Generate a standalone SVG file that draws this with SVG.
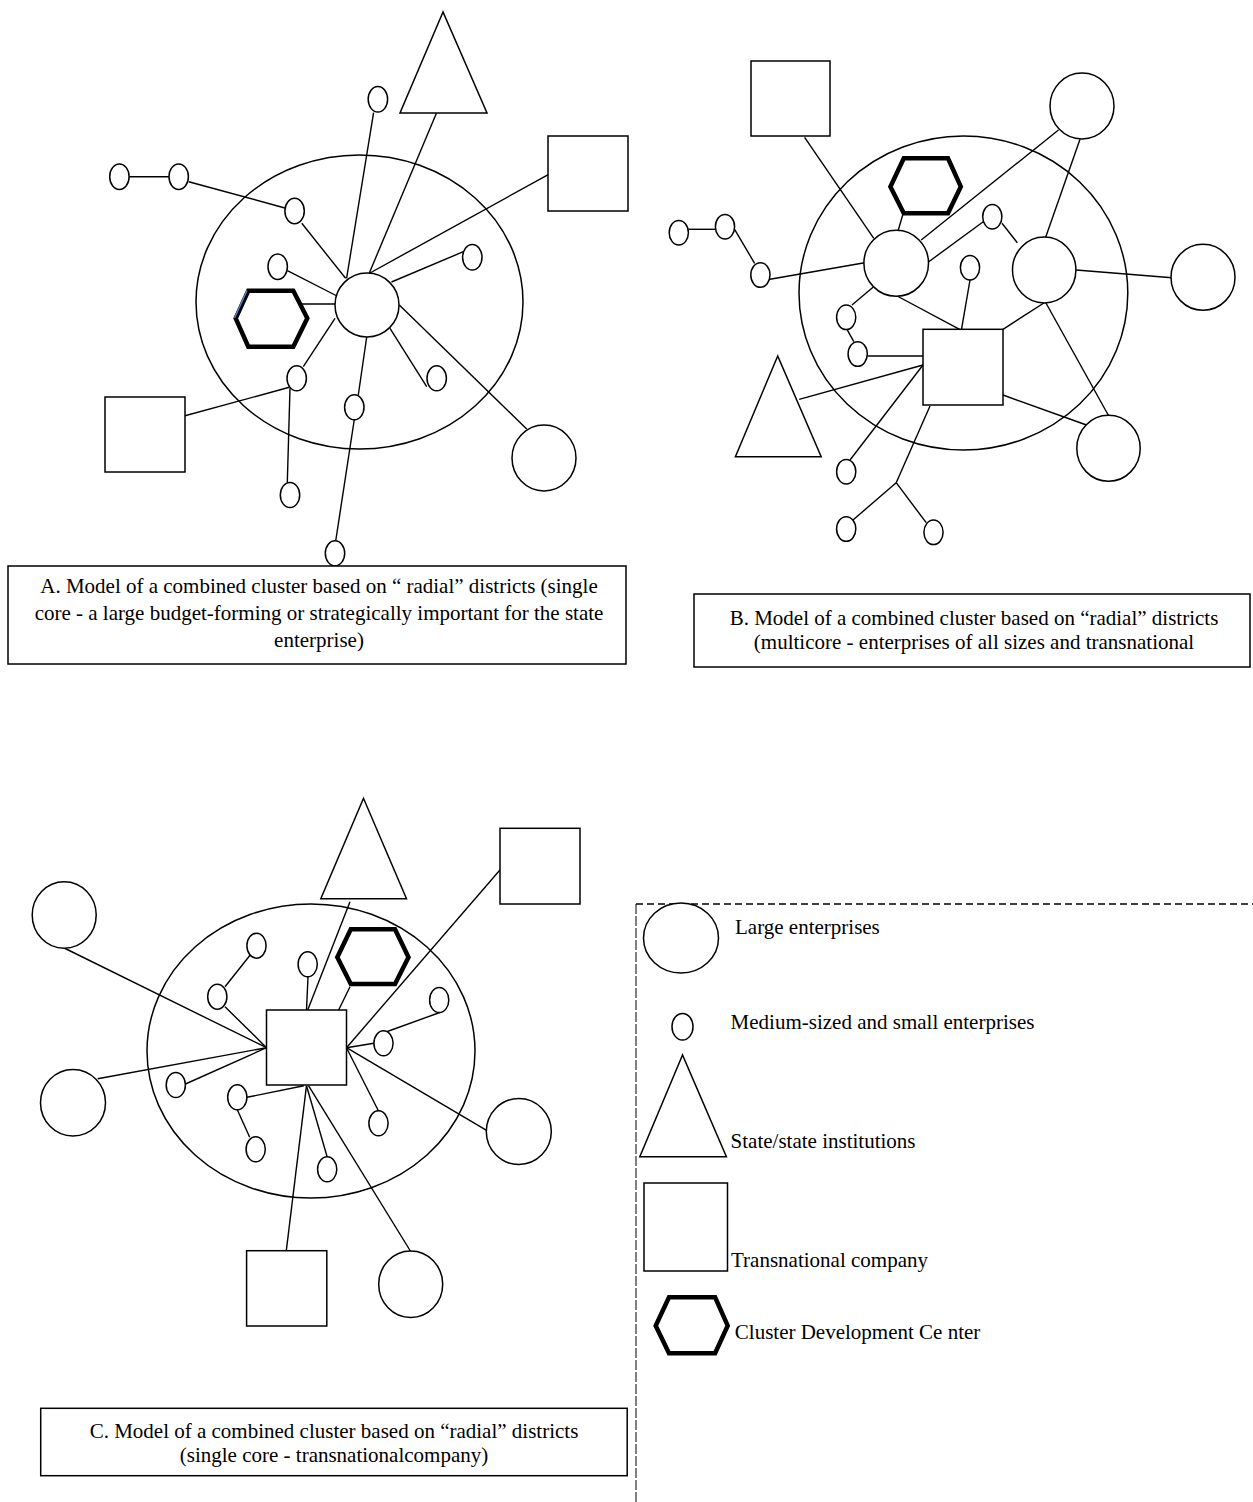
<svg xmlns="http://www.w3.org/2000/svg" width="1253" height="1502" viewBox="0 0 1253 1502">
<style>
.n{fill:#fff;stroke:#000;stroke-width:1.5}
.cl{fill:none;stroke:#000;stroke-width:1.5}
.h{fill:#fff;stroke:#000;stroke-width:4.5;stroke-linejoin:miter}
.c line{stroke:#000;stroke-width:1.4}
.t{font-family:"Liberation Serif","Times New Roman",serif;font-size:21px;fill:#000}
.m{text-anchor:middle}
.box{fill:#fff;stroke:#000;stroke-width:1.5}
</style>
<rect width="1253" height="1502" fill="#fff"/>

<!-- ================= Panel A ================= -->
<g id="clusterA"><ellipse class="cl" cx="359.5" cy="302" rx="163.5" ry="147"/></g>
<g id="connectorsA" class="c">
<line x1="129" y1="176.7" x2="169" y2="176.7"/>
<line x1="188.7" y1="181.7" x2="284.9" y2="208"/>
<line x1="301.8" y1="223.3" x2="345.6" y2="278.3"/>
<line x1="373.6" y1="112.7" x2="346.6" y2="278.3"/>
<line x1="436.4" y1="113.3" x2="369.3" y2="273"/>
<line x1="548.7" y1="174.3" x2="370" y2="273"/>
<line x1="463.3" y1="251.7" x2="391.5" y2="282"/>
<line x1="287.4" y1="270.7" x2="337" y2="296"/>
<line x1="301.7" y1="304" x2="335" y2="304"/>
<line x1="335" y1="318.3" x2="303.3" y2="366.7"/>
<line x1="185" y1="415.7" x2="289.3" y2="387.3"/>
<line x1="290" y1="388.3" x2="287.3" y2="482.5"/>
<line x1="366.7" y1="337" x2="358.3" y2="395"/>
<line x1="354.3" y1="419.5" x2="335.7" y2="541"/>
<line x1="390" y1="328.3" x2="426.7" y2="386.7"/>
<line x1="399.3" y1="305" x2="526.7" y2="429"/>
</g>
<g id="A-core"><circle class="n" cx="367" cy="305" r="32"/></g>
<g id="A-state"><polygon class="n" points="443,12 400,113 487,113"/></g>
<g id="A-tnc1"><rect class="n" x="548" y="136" width="80" height="75"/></g>
<g id="A-tnc2"><rect class="n" x="105" y="397" width="80" height="75"/></g>
<g id="A-large"><ellipse class="n" cx="544" cy="458" rx="32" ry="33"/></g>
<g id="A-cdc"><polygon class="h" points="248.3,290.7 293.3,290.7 307.3,318.3 293.3,346.7 248.3,346.7 235.7,318.3"/>
<line x1="247" y1="290.5" x2="234.5" y2="318" stroke="#4f81bd" stroke-width="1.5"/></g>
<g id="A-sme">
<ellipse class="n" cx="119.4" cy="176.7" rx="9.7" ry="12.8"/>
<ellipse class="n" cx="178.7" cy="176.7" rx="9.7" ry="12.8"/>
<ellipse class="n" cx="294.6" cy="211" rx="9.7" ry="12.8"/>
<ellipse class="n" cx="377.9" cy="99.3" rx="9.7" ry="12.8"/>
<ellipse class="n" cx="277.7" cy="266.7" rx="9.7" ry="12.8"/>
<ellipse class="n" cx="472.3" cy="257.3" rx="9.7" ry="12.8"/>
<ellipse class="n" cx="296.7" cy="378.3" rx="9.7" ry="12.5"/>
<ellipse class="n" cx="290" cy="495" rx="9.7" ry="12.5"/>
<ellipse class="n" cx="354.3" cy="407.3" rx="9.7" ry="12.5"/>
<ellipse class="n" cx="335" cy="553.3" rx="9.7" ry="12.5"/>
<ellipse class="n" cx="436.7" cy="378.3" rx="9.7" ry="12.5"/>
</g>
<g id="captionA">
<rect class="box" x="8" y="566" width="618" height="98"/>
<text class="t m" x="319" y="593">A. Model of a combined cluster based on “ radial” districts (single</text>
<text class="t m" x="319" y="620">core - a large budget-forming or strategically important for the state</text>
<text class="t m" x="319" y="647">enterprise)</text>
</g>

<!-- ================= Panel B ================= -->
<g id="clusterB"><ellipse class="cl" cx="963.4" cy="293" rx="164.4" ry="157"/></g>
<g id="connectorsB" class="c">
<line x1="688.5" y1="229.3" x2="715.4" y2="229.3"/>
<line x1="734.6" y1="229.3" x2="754.6" y2="263.3"/>
<line x1="770" y1="279.3" x2="864.6" y2="262.7"/>
<line x1="804.6" y1="137.3" x2="873.8" y2="238.3"/>
<line x1="903" y1="214" x2="898" y2="231"/>
<line x1="921.2" y1="240" x2="1058.5" y2="130"/>
<line x1="928.8" y1="261.7" x2="984.6" y2="220.7"/>
<line x1="1002" y1="223.3" x2="1017.3" y2="242.7"/>
<line x1="1080" y1="139.3" x2="1045.4" y2="238"/>
<line x1="1076.2" y1="270" x2="1172" y2="277.7"/>
<line x1="896.2" y1="295.5" x2="959.6" y2="329.3"/>
<line x1="970" y1="280" x2="961.5" y2="329.3"/>
<line x1="1045.4" y1="302" x2="1003" y2="329.3"/>
<line x1="1045.4" y1="302" x2="1108.5" y2="415.5"/>
<line x1="873" y1="287.3" x2="852" y2="305"/>
<line x1="847" y1="329.3" x2="853.8" y2="341.7"/>
<line x1="867.3" y1="356" x2="923" y2="356"/>
<line x1="799.2" y1="399.3" x2="923" y2="365"/>
<line x1="923" y1="365" x2="850" y2="460"/>
<line x1="930" y1="406" x2="896.2" y2="482.7"/>
<line x1="896.2" y1="482.7" x2="853" y2="520"/>
<line x1="896.2" y1="482.7" x2="926.2" y2="522.7"/>
<line x1="1003" y1="395" x2="1086.5" y2="425"/>
</g>
<g id="B-tnc1"><rect class="n" x="751" y="61" width="79" height="75"/></g>
<g id="B-large1"><ellipse class="n" cx="1082" cy="106" rx="32" ry="33"/></g>
<g id="B-cdc"><polygon class="h" points="903.8,158.3 948,158.3 960.8,186.7 948,213.3 903.8,213.3 890.4,186.7"/></g>
<g id="B-core1"><ellipse class="n" cx="896.2" cy="263.3" rx="32.3" ry="33"/></g>
<g id="B-core2"><ellipse class="n" cx="1044.2" cy="270" rx="31.7" ry="33"/></g>
<g id="B-large2"><ellipse class="n" cx="1203" cy="277.3" rx="32" ry="33"/></g>
<g id="B-coreTnc"><rect class="n" x="923" y="329.3" width="80" height="75.7"/></g>
<g id="B-state"><polygon class="n" points="777.7,356 735.4,456.7 821.2,456.7"/></g>
<g id="B-large3"><ellipse class="n" cx="1108.5" cy="448.3" rx="31.7" ry="33"/></g>
<g id="B-sme">
<ellipse class="n" cx="678.8" cy="232.7" rx="9.6" ry="12.3"/>
<ellipse class="n" cx="725" cy="226.7" rx="9.6" ry="12.3"/>
<ellipse class="n" cx="760.4" cy="275" rx="9.6" ry="12.3"/>
<ellipse class="n" cx="992.3" cy="216.7" rx="9.6" ry="12.3"/>
<ellipse class="n" cx="970" cy="267.7" rx="9.6" ry="12.3"/>
<ellipse class="n" cx="846.2" cy="317.3" rx="9.6" ry="12.3"/>
<ellipse class="n" cx="857.7" cy="354" rx="9.6" ry="12.3"/>
<ellipse class="n" cx="846.2" cy="471.7" rx="9.6" ry="12.3"/>
<ellipse class="n" cx="846.2" cy="529" rx="9.6" ry="12.3"/>
<ellipse class="n" cx="933.5" cy="532.3" rx="9.6" ry="12.3"/>
</g>
<g id="captionB">
<rect class="box" x="694" y="594" width="556" height="73"/>
<text class="t m" x="974" y="625">B. Model of a combined cluster based on “radial” districts</text>
<text class="t m" x="974" y="649">(multicore - enterprises of all sizes and transnational</text>
</g>

<!-- ================= Panel C ================= -->
<g id="clusterC"><ellipse class="cl" cx="311" cy="1051" rx="164" ry="147"/></g>
<g id="connectorsC" class="c">
<line x1="64.2" y1="948" x2="266.5" y2="1047.7"/>
<line x1="97.7" y1="1078.7" x2="266.5" y2="1047.7"/>
<line x1="185.4" y1="1084" x2="266.5" y2="1047.7"/>
<line x1="225" y1="1006.7" x2="266.5" y2="1047.7"/>
<line x1="250.8" y1="954.3" x2="225" y2="986.7"/>
<line x1="308" y1="977" x2="306.5" y2="1010"/>
<line x1="350" y1="901.7" x2="307.7" y2="1010"/>
<line x1="350" y1="986.7" x2="337.3" y2="1012.7"/>
<line x1="500.8" y1="869" x2="346.5" y2="1047.7"/>
<line x1="441.2" y1="1012" x2="387.3" y2="1031.5"/>
<line x1="373.8" y1="1043.3" x2="346.5" y2="1047.7"/>
<line x1="346.5" y1="1047.7" x2="487" y2="1130.7"/>
<line x1="346.5" y1="1047.7" x2="378.5" y2="1111"/>
<line x1="303.8" y1="1085.7" x2="246.9" y2="1097.3"/>
<line x1="237.3" y1="1109.8" x2="249.7" y2="1137.3"/>
<line x1="306.5" y1="1085.7" x2="327.2" y2="1157"/>
<line x1="306.5" y1="1085.7" x2="286.3" y2="1250.7"/>
<line x1="308.5" y1="1085.7" x2="410.7" y2="1251.5"/>
</g>
<g id="C-state"><polygon class="n" points="363.5,798.3 320.8,898.7 406.5,898.7"/></g>
<g id="C-tnc1"><rect class="n" x="500" y="828.3" width="80" height="75.7"/></g>
<g id="C-large1"><ellipse class="n" cx="64.2" cy="915" rx="32" ry="33.3"/></g>
<g id="C-cdc"><polygon class="h" points="350.8,929.3 395,929.3 408.5,957.3 395,984 350.8,984 337.3,957.3"/></g>
<g id="C-core"><rect class="n" x="266.5" y="1010" width="80" height="75"/></g>
<g id="C-large2"><ellipse class="n" cx="73" cy="1102.7" rx="32.5" ry="33.3"/></g>
<g id="C-large3"><ellipse class="n" cx="518.8" cy="1131.5" rx="32.5" ry="33"/></g>
<g id="C-tnc2"><rect class="n" x="246.6" y="1250.7" width="80.2" height="75.3"/></g>
<g id="C-large4"><ellipse class="n" cx="410.7" cy="1284.3" rx="32" ry="33.3"/></g>
<g id="C-sme">
<ellipse class="n" cx="256.5" cy="945.7" rx="9.6" ry="12.5"/>
<ellipse class="n" cx="217.3" cy="996.7" rx="9.6" ry="12.5"/>
<ellipse class="n" cx="307.7" cy="964.3" rx="9.6" ry="12.5"/>
<ellipse class="n" cx="439.2" cy="1000" rx="9.6" ry="12.5"/>
<ellipse class="n" cx="383.5" cy="1043.3" rx="9.6" ry="12.5"/>
<ellipse class="n" cx="175.8" cy="1085" rx="9.6" ry="12.5"/>
<ellipse class="n" cx="237.3" cy="1097.3" rx="9.6" ry="12.5"/>
<ellipse class="n" cx="378.5" cy="1123.3" rx="9.6" ry="12.5"/>
<ellipse class="n" cx="255.7" cy="1149.3" rx="9.6" ry="12.5"/>
<ellipse class="n" cx="327.2" cy="1169.3" rx="9.6" ry="12.5"/>
</g>
<g id="captionC">
<rect class="box" x="40.7" y="1408.3" width="586.5" height="67.4"/>
<text class="t m" x="334" y="1438">C. Model of a combined cluster based on “radial” districts</text>
<text class="t m" x="334" y="1462">(single core - transnationalcompany)</text>
</g>

<!-- ================= Legend ================= -->
<g id="legend-frame">
<line x1="636" y1="904" x2="1253" y2="904" stroke="#000" stroke-width="1.5" stroke-dasharray="7,4"/>
<line x1="636" y1="904" x2="636" y2="1502" stroke="#000" stroke-width="1" stroke-dasharray="10,2"/>
</g>
<g id="legend-large">
<ellipse class="n" cx="681" cy="938" rx="37.5" ry="35"/>
<text class="t" x="735" y="934">Large enterprises</text>
</g>
<g id="legend-sme">
<ellipse class="n" cx="682.5" cy="1026.7" rx="10.5" ry="13.3"/>
<text class="t" x="730.6" y="1029">Medium-sized and small enterprises</text>
</g>
<g id="legend-state">
<polygon class="n" points="682.5,1055 639.8,1156.7 726.4,1156.7"/>
<text class="t" x="730.6" y="1148">State/state institutions</text>
</g>
<g id="legend-tnc">
<rect class="n" x="644" y="1183" width="83.5" height="88"/>
<text class="t" x="731" y="1267">Transnational company</text>
</g>
<g id="legend-cdc">
<polygon class="h" points="669,1297.3 715.1,1297.3 727.7,1325.7 715.1,1353.3 669,1353.3 655.7,1325.7"/>
<text class="t" x="734.8" y="1339">Cluster Development Ce nter</text>
</g>
</svg>
